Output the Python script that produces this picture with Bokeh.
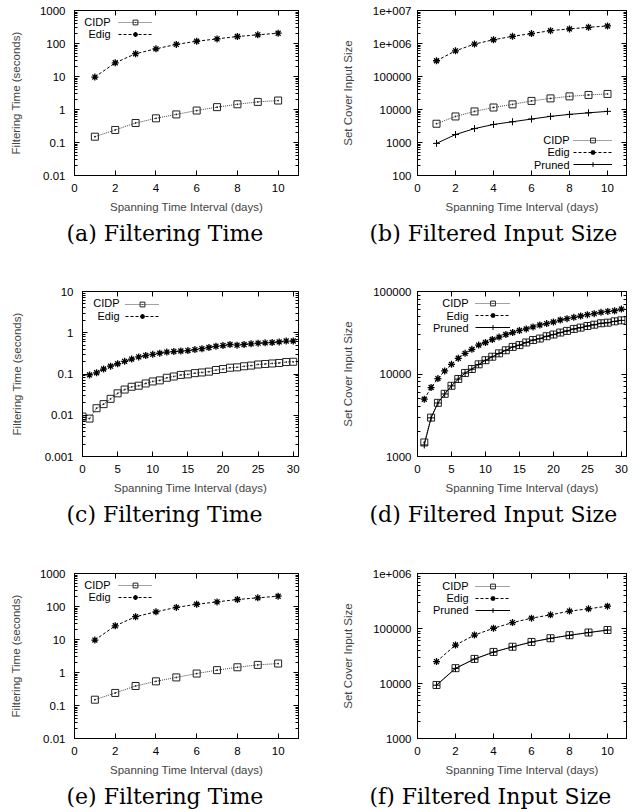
from bokeh.plotting import figure
from bokeh.models import Range1d, FixedTicker, LinearAxis, LogAxis, Legend, LegendItem, Label, Title
from bokeh.layouts import column, row
from bokeh.embed import file_html
from bokeh.resources import INLINE

# ---------------- data ----------------
days10 = [1, 2, 3, 4, 5, 6, 7, 8, 9, 10]
days30 = list(range(1, 31))
days30_cidp = list(range(0, 31))

# (a) and (e) Filtering Time
a_cidp = [0.15, 0.24, 0.39, 0.54, 0.71, 0.93, 1.18, 1.44, 1.70, 1.87]
a_edig = [9.6, 26, 49, 69, 94, 117, 138, 163, 183, 205]

# (b) Filtered Input Size
b_cidp = [3700, 6150, 8740, 11500, 14300, 18200, 21700, 25000, 27600, 29600]
b_edig = [300000, 600000, 960000, 1300000, 1650000, 2000000, 2450000, 2770000, 3100000, 3400000]
b_pruned = [940, 1740, 2640, 3520, 4250, 5140, 6190, 7110, 7930, 8770]

# (c) Filtering Time (30 days)
c_cidp = [0.0093, 0.0083, 0.0148, 0.0186, 0.025, 0.034, 0.042, 0.049, 0.052, 0.059, 0.066,
          0.070, 0.081, 0.087, 0.095, 0.098, 0.105, 0.109, 0.114, 0.125, 0.132,
          0.142, 0.145, 0.154, 0.16, 0.17, 0.175, 0.18, 0.185, 0.195, 0.198]
c_edig = [0.095, 0.107, 0.132, 0.155, 0.177, 0.203, 0.23, 0.26, 0.28, 0.30,
          0.32, 0.34, 0.35, 0.36, 0.37, 0.39, 0.41, 0.44, 0.47, 0.49,
          0.52, 0.50, 0.52, 0.54, 0.56, 0.57, 0.58, 0.60, 0.63, 0.63]

# (d) Filtered Input Size (30 days)
d_cidp = [1480, 2960, 4470, 5750, 7200, 8700, 10300, 11500, 13100, 14700,
          16200, 17800, 19400, 21300, 22400, 24100, 25800, 26900, 28700, 30100,
          31800, 33300, 35200, 36500, 38200, 39600, 41200, 41900, 43500, 44700]
d_edig = [4950, 6850, 8800, 10900, 13100, 15500, 17800, 19900, 22400, 24100,
          26200, 28000, 30100, 31800, 33700, 35200, 37200, 39300, 40800, 42700,
          45100, 46900, 48600, 50400, 52400, 53900, 55900, 57400, 58500, 61200]
d_pruned = [1380, 2940, 4450, 5730, 7180, 8680, 10250, 11450, 13050, 14650,
            16150, 17750, 19350, 21250, 22350, 24050, 25750, 26850, 28650, 30050,
            31750, 33250, 35150, 36450, 38150, 39550, 41150, 41850, 43450, 44650]

# (f) Filtered Input Size
f_cidp = [9400, 19000, 28000, 37500, 46600, 57000, 66500, 75500, 84500, 94000]
f_edig = [25000, 50000, 76000, 101000, 128000, 154000, 177000, 207000, 228000, 255000]
f_pruned = [9300, 18800, 27800, 37200, 46300, 56700, 66200, 75200, 84200, 93600]

# ticks
x_ticks10 = [0, 2, 4, 6, 8, 10]
x_ticks30 = [0, 5, 10, 15, 20, 25, 30]
time_ticks_a = [0.01, 0.1, 1, 10, 100, 1000]
time_labels_a = ["0.01", "0.1", "1", "10", "100", "1000"]
time_ticks_c = [0.001, 0.01, 0.1, 1, 10]
time_labels_c = ["0.001", "0.01", "0.1", "1", "10"]
size_ticks_b = [100, 1000, 10000, 100000, 1000000, 10000000]
size_labels_b = ["100", "1000", "10000", "100000", "1e+006", "1e+007"]
size_ticks_d = [1000, 10000, 100000]
size_labels_d = ["1000", "10000", "100000"]
size_ticks_f = [1000, 10000, 100000, 1000000]
size_labels_f = ["1000", "10000", "100000", "1e+006"]

x_title = "Spanning Time Interval (days)"
y_time = "Filtering Time (seconds)"
y_size = "Set Cover Input Size"

SANS = "Liberation Sans"
SERIF = "DejaVu Serif"
FRAME_H = 165
FS = "11.5px"


def minor_log(ticks):
    out = []
    for t in ticks[:-1]:
        out += [t * k for k in range(2, 10)]
    return out


def style_axis(ax, standoff, show_labels=True):
    ax.major_tick_in = 5
    ax.major_tick_out = 0
    ax.minor_tick_in = 3
    ax.minor_tick_out = 0
    ax.axis_line_color = "black"
    ax.major_tick_line_color = "black"
    ax.minor_tick_line_color = "black"
    ax.major_label_text_font = SANS
    ax.major_label_text_font_size = FS
    ax.major_label_text_color = "black"
    ax.major_label_standoff = standoff
    if not show_labels:
        ax.major_label_text_font_size = "1px"
        ax.major_label_text_alpha = 0


def make_panel(width, height, left, top, frame_w, x_end, x_ticks, y_ticks, y_labels,
               y_title, ylab_standoff, ytick_standoff, series, leg, caption, cap_offset):
    p = figure(width=width, height=height, x_range=Range1d(0, x_end),
               y_range=Range1d(y_ticks[0], y_ticks[-1]), y_axis_type="log",
               output_backend="svg", toolbar_location=None,
               min_border_left=left, min_border_right=width - left - frame_w,
               min_border_top=top, min_border_bottom=height - top - FRAME_H)
    p.xgrid.grid_line_color = None
    p.ygrid.grid_line_color = None
    p.outline_line_color = "black"
    p.background_fill_color = "white"
    p.border_fill_color = "white"

    xa = p.xaxis[0]
    xa.ticker = FixedTicker(ticks=x_ticks)
    style_axis(xa, 8)
    xa.axis_label = x_title
    xa.axis_label_text_font = SANS
    xa.axis_label_text_font_size = FS
    xa.axis_label_text_font_style = "normal"
    xa.axis_label_standoff = 6

    ya = p.yaxis[0]
    ya.ticker = FixedTicker(ticks=y_ticks, minor_ticks=minor_log(y_ticks))
    style_axis(ya, ytick_standoff)
    ya.major_label_overrides = {t: l for t, l in zip(y_ticks, y_labels)}
    ya.axis_label = y_title
    ya.axis_label_text_font = SANS
    ya.axis_label_text_font_size = FS
    ya.axis_label_text_font_style = "normal"
    ya.axis_label_standoff = ylab_standoff

    top_ax = LinearAxis(ticker=FixedTicker(ticks=x_ticks))
    style_axis(top_ax, 0, show_labels=False)
    p.add_layout(top_ax, "above")
    right_ax = LogAxis(ticker=FixedTicker(ticks=y_ticks, minor_ticks=minor_log(y_ticks)))
    style_axis(right_ax, 0, show_labels=False)
    p.add_layout(right_ax, "right")

    items = []
    names = []
    for name, xs, ys in series:
        if name == "CIDP":
            r1 = p.line(xs, ys, line_color="#444444", line_dash="1 1", line_width=1)
            r2 = p.scatter(xs, ys, marker="square_dot", size=7, line_color="#222222",
                           fill_color=None, line_width=1)
        elif name == "Edig":
            r1 = p.line(xs, ys, line_color="black", line_dash="3 2", line_width=1)
            r2 = p.scatter(xs, ys, marker="asterisk", size=7, line_color="black", line_width=1.3)
        else:
            r1 = p.line(xs, ys, line_color="black", line_width=1)
            r2 = p.scatter(xs, ys, marker="cross", size=7, line_color="black", line_width=1)
        items.append(LegendItem(label=name, renderers=[r1, r2]))
        names.append(name)

    text_right, glyph_x, glyph_w, row0, pitch = leg
    n = len(items)
    legend = Legend(items=items,
                    location=(glyph_x, round(FRAME_H - (row0 + (n - 1) * pitch + pitch / 2))),
                    glyph_width=glyph_w, glyph_height=12, label_height=12, label_width=1,
                    label_standoff=0, label_text_alpha=0, label_text_font_size="1px",
                    spacing=0, padding=0, margin=0,
                    background_fill_alpha=0, border_line_alpha=0)
    p.add_layout(legend)
    for i, nm in enumerate(names):
        p.add_layout(Label(x=text_right, y=FRAME_H - (row0 + i * pitch), x_units="screen",
                           y_units="screen", text=nm, text_align="right",
                           text_baseline="middle", text_font=SANS,
                           text_font_size="11px", text_color="black"))
    p.add_layout(Title(text=caption, align="left", offset=cap_offset, standoff=7,
                       text_font=SERIF, text_font_size="22px", text_font_style="normal",
                       text_color="black"), "below")
    return p


W = 320
pa = make_panel(W, 281, 74, 10, 224, 11, x_ticks10, time_ticks_a, time_labels_a, y_time, 15, 9,
                [("CIDP", days10, a_cidp), ("Edig", days10, a_edig)],
                (36, 44, 34, 11.7, 12), "(a) Filtering Time", -8)
pb = make_panel(W, 281, 97, 10, 209, 11, x_ticks10, size_ticks_b, size_labels_b, y_size, 16, 6,
                [("CIDP", days10, b_cidp), ("Edig", days10, b_edig), ("Pruned", days10, b_pruned)],
                (152, 156, 39, 129.5, 12.3), "(b) Filtered Input Size", -48)
pc = make_panel(W, 281, 82, 10, 216, 30.75, x_ticks30, time_ticks_c, time_labels_c, y_time, 19, 9,
                [("CIDP", days30_cidp, c_cidp), ("Edig", days30, c_edig)],
                (37, 43, 34, 11.7, 12.7), "(c) Filtering Time", -16)
pd_ = make_panel(W, 281, 97, 10, 209, 30.75, x_ticks30, size_ticks_d, size_labels_d, y_size, 16, 6,
                 [("CIDP", days30, d_cidp), ("Edig", days30, d_edig), ("Pruned", days30, d_pruned)],
                 (51, 58, 35, 11.7, 12.3), "(d) Filtered Input Size", -48)
pe = make_panel(W, 250, 74, 11, 224, 11, x_ticks10, time_ticks_a, time_labels_a, y_time, 15, 9,
                [("CIDP", days10, a_cidp), ("Edig", days10, a_edig)],
                (36, 44, 34, 11.3, 12.5), "(e) Filtering Time", -8)
pf = make_panel(W, 250, 97, 11, 209, 11, x_ticks10, size_ticks_f, size_labels_f, y_size, 16, 6,
                [("CIDP", days10, f_cidp), ("Edig", days10, f_edig), ("Pruned", days10, f_pruned)],
                (51, 58, 35, 12.3, 12.1), "(f) Filtered Input Size", -48)

layout = column(row(pa, pb), row(pc, pd_), row(pe, pf))
with open("out.html", "w") as fh:
    fh.write(file_html(layout, INLINE))
